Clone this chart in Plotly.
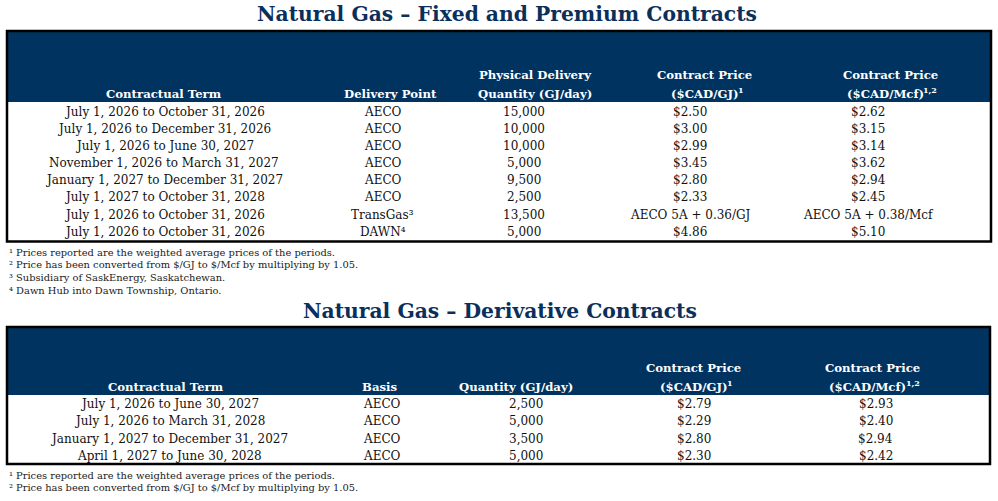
import plotly.graph_objects as go

W, H = 998, 501

# ---------------- data ----------------
TITLE_FIXED = "Natural Gas – Fixed and Premium Contracts"
TITLE_DERIV = "Natural Gas – Derivative Contracts"

# header cells: (upper line, lower line, superscript note on lower line)
fixed_headers = [("", "Contractual Term", ""),
                 ("", "Delivery Point", ""),
                 ("Physical Delivery", "Quantity (GJ/day)", ""),
                 ("Contract Price", "($CAD/GJ)", "1"),
                 ("Contract Price", "($CAD/Mcf)", "1,2")]
fixed_terms = ["July 1, 2026 to October 31, 2026",
               "July 1, 2026 to December 31, 2026",
               "July 1, 2026 to June 30, 2027",
               "November 1, 2026 to March 31, 2027",
               "January 1, 2027 to December 31, 2027",
               "July 1, 2027 to October 31, 2028",
               "July 1, 2026 to October 31, 2026",
               "July 1, 2026 to October 31, 2026"]
fixed_delivery = ["AECO", "AECO", "AECO", "AECO", "AECO", "AECO",
                  "TransGas³", "DAWN⁴"]
fixed_qty = [15000, 10000, 10000, 5000, 9500, 2500, 13500, 5000]
fixed_price_gj = [2.50, 3.00, 2.99, 3.45, 2.80, 2.33, 0.36, 4.86]
fixed_price_mcf = [2.62, 3.15, 3.14, 3.62, 2.94, 2.45, 0.38, 5.10]
fixed_price_kind = ["fixed", "fixed", "fixed", "fixed", "fixed", "fixed",
                    "premium", "fixed"]
premium_index = "AECO 5A"
fixed_notes = ["¹ Prices reported are the weighted average prices of the periods.",
               "² Price has been converted from $/GJ to $/Mcf by multiplying by 1.05.",
               "³ Subsidiary of SaskEnergy, Saskatchewan.",
               "⁴ Dawn Hub into Dawn Township, Ontario."]

deriv_headers = [("", "Contractual Term", ""),
                 ("", "Basis", ""),
                 ("", "Quantity (GJ/day)", ""),
                 ("Contract Price", "($CAD/GJ)", "1"),
                 ("Contract Price", "($CAD/Mcf)", "1,2")]
deriv_terms = ["July 1, 2026 to June 30, 2027",
               "July 1, 2026 to March 31, 2028",
               "January 1, 2027 to December 31, 2027",
               "April 1, 2027 to June 30, 2028"]
deriv_basis = ["AECO", "AECO", "AECO", "AECO"]
deriv_qty = [2500, 5000, 3500, 5000]
deriv_price_gj = [2.79, 2.29, 2.80, 2.30]
deriv_price_mcf = [2.93, 2.40, 2.94, 2.42]
deriv_kind = ["fixed", "fixed", "fixed", "fixed"]
deriv_notes = fixed_notes[:2]

# ---------------- styles / layout ----------------
NAVY = "#003360"
TITLE_COLOR = "#0B2F5B"
FONT = "DejaVu Serif"
BODY_SIZE = 12
HEAD_SIZE = 11.7
SUP_SIZE = 8
TITLE_SIZE = 20.3
NOTE_SIZE = 9.9

L1 = dict(title_x=507, title_y=14, top=31, head_bottom=102, bottom=241.5,
          left=7, right=991, head_y=[74.5, 94.3], row0=111.7, pitch=17.15,
          note_y0=252, note_pitch=12.8,
          head_x=[164, 390, 535, 704, 890], body_x=[164, 382.5, 524, 690, 868])
L2 = dict(title_x=500, title_y=311, top=327, head_bottom=395, bottom=464,
          left=7, right=990, head_y=[368.3, 386.7], row0=403.5, pitch=17.5,
          note_y0=475, note_pitch=12.7,
          head_x=[165.5, 379, 516, 693, 872.5], body_x=[169, 382.3, 525.5, 694.3, 875.8])


def price_text(vals, kinds, unit):
    out = []
    for v, k in zip(vals, kinds):
        if k == "premium":
            out.append(f"{premium_index} + {v:.2f}/{unit}")
        else:
            out.append(f"${v:.2f}")
    return out


fig = go.Figure()
# invisible trace so the axes (used as the table's pixel scale) exist
fig.add_trace(go.Scatter(x=[0, W], y=[0, H], mode="markers",
                         marker=dict(opacity=0, size=1), hoverinfo="skip",
                         showlegend=False))


def put_text(x, y, text, size, color, bold=False, xanchor="center", yshift=0):
    if not text:
        return
    if bold:
        text = f"<b>{text}</b>"
    fig.add_annotation(x=x, y=y, xref="x", yref="y", text=text, showarrow=False,
                       xanchor=xanchor, yanchor="middle", borderpad=0, yshift=yshift,
                       font=dict(family=FONT, size=size, color=color))


def add_table(lay, title, headers, columns, notes):
    fig.add_shape(type="rect", xref="x", yref="y", x0=lay["left"], x1=lay["right"],
                  y0=lay["top"], y1=lay["head_bottom"], fillcolor=NAVY,
                  line=dict(width=0), layer="below")
    fig.add_shape(type="rect", xref="x", yref="y", x0=lay["left"], x1=lay["right"],
                  y0=lay["top"], y1=lay["bottom"], fillcolor="rgba(0,0,0,0)",
                  line=dict(color="black", width=2.5), layer="above")
    put_text(lay["title_x"], lay["title_y"], title, TITLE_SIZE, TITLE_COLOR, bold=True)
    for hx, (upper, lower, sup) in zip(lay["head_x"], headers):
        put_text(hx, lay["head_y"][0], upper, HEAD_SIZE, "white", bold=True)
        if sup:
            # lower line ends where its superscript begins; pair is centred on hx
            sup_w = 4.5 * len(sup) + 1
            split = hx + (HEAD_SIZE * 0.72 * len(lower) + sup_w) / 2 - sup_w
            put_text(split, lay["head_y"][1], lower, HEAD_SIZE, "white", bold=True,
                     xanchor="right")
            put_text(split - 2.5, lay["head_y"][1], sup, SUP_SIZE, "white", bold=True,
                     xanchor="left", yshift=4)
        else:
            put_text(hx, lay["head_y"][1], lower, HEAD_SIZE, "white", bold=True)
    for bx, col in zip(lay["body_x"], columns):
        for i, t in enumerate(col):
            put_text(bx, lay["row0"] + i * lay["pitch"], t, BODY_SIZE, "#111111")
    for i, t in enumerate(notes):
        put_text(lay["left"] + 1, lay["note_y0"] + i * lay["note_pitch"], t,
                 NOTE_SIZE, "#1a1a1a", xanchor="left")


add_table(L1, TITLE_FIXED, fixed_headers,
          [fixed_terms, fixed_delivery, [f"{q:,}" for q in fixed_qty],
           price_text(fixed_price_gj, fixed_price_kind, "GJ"),
           price_text(fixed_price_mcf, fixed_price_kind, "Mcf")],
          fixed_notes)
add_table(L2, TITLE_DERIV, deriv_headers,
          [deriv_terms, deriv_basis, [f"{q:,}" for q in deriv_qty],
           price_text(deriv_price_gj, deriv_kind, "GJ"),
           price_text(deriv_price_mcf, deriv_kind, "Mcf")],
          deriv_notes)

fig.update_layout(width=W, height=H, margin=dict(l=0, r=0, t=0, b=0),
                  paper_bgcolor="white", plot_bgcolor="white",
                  xaxis=dict(range=[0, W], visible=False, fixedrange=True),
                  yaxis=dict(range=[H, 0], visible=False, fixedrange=True))
fig.write_html("out.html", config={"displayModeBar": False},
               post_script="document.body.style.margin='0px';"
                           "document.body.style.overflow='hidden';")
